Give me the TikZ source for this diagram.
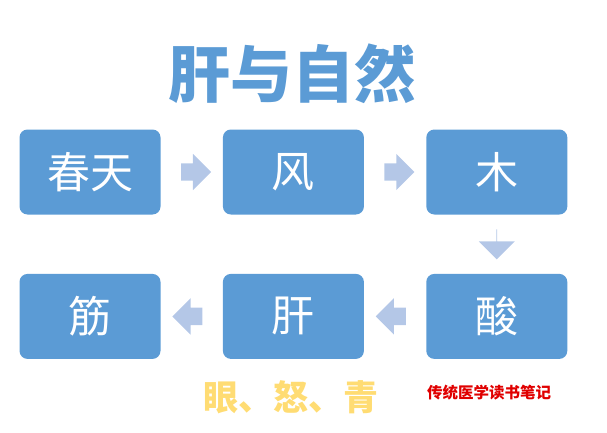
\documentclass[tikz,border=0pt]{standalone}
\usepackage{fontspec}
\setmainfont{Noto Sans CJK SC}
\newfontfamily\cjk{Noto Sans CJK SC}
\usepackage{tikz}
\usetikzlibrary{positioning,shapes.arrows,calc}
\definecolor{boxblue}{HTML}{5B9BD5}
\definecolor{arrowblue}{HTML}{B4C7E7}
\definecolor{noteyellow}{HTML}{FFDC73}
\definecolor{notered}{HTML}{E00000}
\tikzset{
  box/.style={rectangle,fill=boxblue,rounded corners=8pt,text=white,
    minimum width=141pt,minimum height=85pt,inner sep=0pt,
    font=\cjk\fontsize{43}{43}\selectfont},
  flow/.style={single arrow,fill=arrowblue,inner xsep=0pt,inner ysep=8.5pt,
    minimum height=30pt,minimum width=36pt,single arrow head extend=9.5pt},
}

\begin{document}
\begin{tikzpicture}[x=1pt,y=-1pt,node distance=59pt and 62pt]
  \useasboundingbox (0,0) rectangle (607,433);
  \node[font=\cjk\bfseries\fontsize{62}{62}\selectfont,text=boxblue] (title) at (292,74) {肝与自然};
  \node[box] (spring) at (90,172) {春天};
  \node[box,right=of spring] (wind) {风};
  \node[box,right=of wind] (wood) {木};
  \node[box,below=of wood] (sour) {酸};
  \node[box,left=of sour] (liver) {肝};
  \node[box,left=of liver] (tendon) {筋};
  \node[flow] (a1) at ($(spring.east)!0.5!(wind.west)$) {};
  \node[flow] (a2) at ($(wind.east)!0.5!(wood.west)$) {};
  \node[flow,shape border rotate=270] (a3) at ($(wood.south)!0.5!(sour.north)$) {};
  \node[flow,shape border rotate=180] (a4) at ($(sour.west)!0.5!(liver.east)$) {};
  \node[flow,shape border rotate=180] (a5) at ($(liver.west)!0.5!(tendon.east)$) {};
  \node[font=\cjk\bfseries\fontsize{35}{35}\selectfont,text=noteyellow] (signs) at (291,397) {眼、怒、青};
  \node[font=\cjk\bfseries\fontsize{15.5}{15.5}\selectfont,text=notered] (credit) at (489,393) {传统医学读书笔记};
\end{tikzpicture}
\end{document}
